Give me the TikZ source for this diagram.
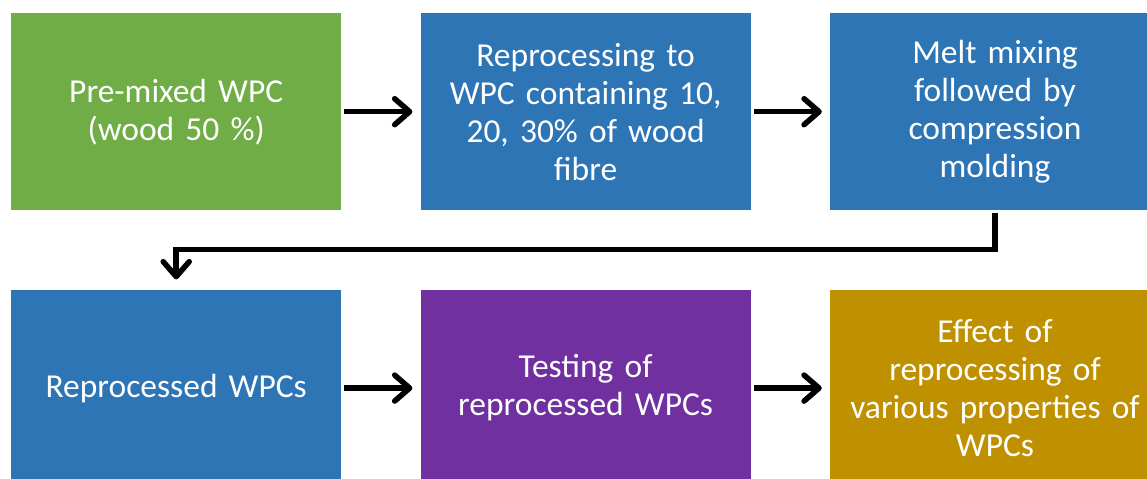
\documentclass[tikz,border=0pt]{standalone}
\usepackage{fontspec}
\setmainfont{Carlito}
\usetikzlibrary{positioning, arrows.meta}

\definecolor{wpcgreen}{HTML}{70AD47}
\definecolor{wpcblue}{HTML}{2E75B6}
\definecolor{wpcpurple}{HTML}{7030A0}
\definecolor{wpcgold}{HTML}{BF9000}

\begin{document}
\begin{tikzpicture}[
		x=1bp, y=-1bp,
		node distance=79bp and 79bp,
		% --- styles ---
		stepbox/.style={
			rectangle, draw=none, fill=wpcblue, text=white,
			minimum width=330bp, minimum height=197bp, inner sep=2bp,
			text width=326bp, align=center,
			font=\fontsize{33.5bp}{38bp}\selectfont
		},
		flow/.style={
			draw, line width=5.5bp, line cap=butt,
			-{Straight Barb[length=15bp, width=26bp, line width=5.5bp, round]}
		}
	]
	\useasboundingbox (0,0) rectangle (1147,479);
	
	% top row
	\node [stepbox, fill=wpcgreen, anchor=north west] (premix) at (11,13) {Pre-mixed WPC\\(wood 50 \%)};
	\node [stepbox, right=of premix] (reproc) {Reprocessing to\\WPC containing 10,\\20, 30\% of wood\\fibre};
	\node [stepbox, right=of reproc] (meltmix) {Melt mixing\\followed by\\compression\\molding};
	
	% bottom row
	\node [stepbox, below=of premix] (reprocwpc) {Reprocessed WPCs};
	\node [stepbox, fill=wpcpurple, right=of reprocwpc] (testing) {Testing of\\reprocessed WPCs};
	\node [stepbox, fill=wpcgold, right=of testing] (effect) {Effect of\\reprocessing of\\various properties of\\WPCs};
	
	% connectors
	\draw [flow] ([xshift=3bp]premix.east) -- ([xshift=-8bp]reproc.west);
	\draw [flow] ([xshift=3bp]reproc.east) -- ([xshift=-8bp]meltmix.west);
	\draw [flow] ([yshift=-3bp]meltmix.south) -- ++(0,36) -| ([yshift=10bp]reprocwpc.north);
	\draw [flow] ([xshift=3bp]reprocwpc.east) -- ([xshift=-8bp]testing.west);
	\draw [flow] ([xshift=3bp]testing.east) -- ([xshift=-8bp]effect.west);
\end{tikzpicture}
\end{document}
